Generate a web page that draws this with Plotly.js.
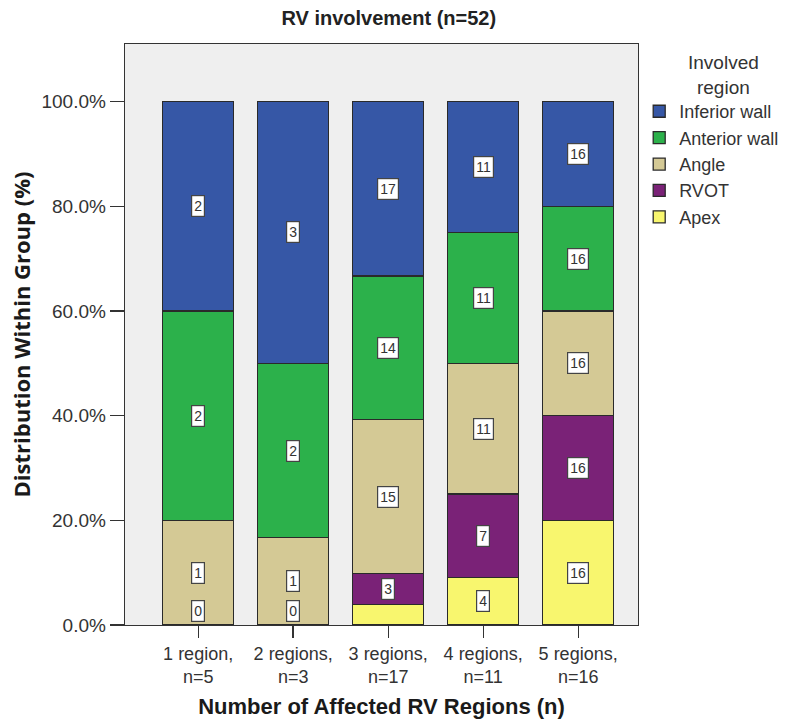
<!DOCTYPE html>
<html>
<head>
<meta charset="utf-8">
<script src="https://cdn.plot.ly/plotly-3.0.1.min.js"></script>
<style>
  html, body { margin: 0; padding: 0; background: #fff; }
  #plot { width: 800px; height: 727px; }
</style>
</head>
<body>
<div id="plot"></div>
<script>
// Categories (x axis)
const groups = ['1 region,<br>n=5', '2 regions,<br>n=3', '3 regions,<br>n=17', '4 regions,<br>n=11', '5 regions,<br>n=16'];

// Counts per involved region, stacked from bottom to top
const apex     = [0, 0, 2, 4, 16];
const rvot     = [0, 0, 3, 7, 16];
const angle    = [1, 1, 15, 11, 16];
const anterior = [2, 2, 14, 11, 16];
const inferior = [2, 3, 17, 11, 16];

const seriesNames = ['Apex', 'RVOT', 'Angle', 'Anterior wall', 'Inferior wall'];
const seriesData = [apex, rvot, angle, anterior, inferior];
const colors = ['#f8f66e', '#7a2277', '#d4c995', '#2cb14b', '#3657a6'];

const traces = seriesData.map((vals, i) => ({
    type: 'bar',
    name: seriesNames[i],
    x: groups,
    y: vals,
    marker: { color: colors[i], line: { color: '#2a2a2a', width: 1.3 } },
    hoverinfo: 'skip'
}));

const labelFont = { family: 'Liberation Sans, Arial', size: 14, color: '#333' };

// Count labels in white boxes, centred on each segment
const annotations = [];
groups.forEach((g, j) => {
    const total = seriesData.reduce((s, arr) => s + arr[j], 0);
    let base = 0;
    seriesData.forEach(arr => {
        const pct = arr[j] / total * 100;
        if (arr[j] === 0) {
            annotations.push({
                x: g, y: 0, xref: 'x', yref: 'y', yanchor: 'bottom', yshift: 3,
                text: '0', showarrow: false, font: labelFont,
                bgcolor: '#ffffff', bordercolor: '#444', borderwidth: 1.2, borderpad: 2
            });
        } else if (pct >= 5) {
            annotations.push({
                x: g, y: base + pct / 2, xref: 'x', yref: 'y',
                text: String(arr[j]), showarrow: false, font: labelFont,
                bgcolor: '#ffffff', bordercolor: '#444', borderwidth: 1.2, borderpad: 2
            });
        }
        base += pct;
    });
});

// Legend heading
annotations.push({
    xref: 'paper', yref: 'paper', x: 1.166, y: 0.99, xanchor: 'center', yanchor: 'top',
    text: 'Involved<br>region', showarrow: false, align: 'center',
    font: { family: 'Liberation Sans, Arial', size: 19, color: '#333' }
});

const layout = {
    width: 800,
    height: 727,
    margin: { l: 125, r: 162, t: 44, b: 102 },
    paper_bgcolor: '#ffffff',
    plot_bgcolor: '#efefef',
    barmode: 'stack',
    barnorm: 'percent',
    bargap: 0.25,
    font: { family: 'Liberation Sans, Arial', size: 17, color: '#333' },
    title: {
        text: '<b>RV involvement (n=52)</b>',
        x: 0.486, xanchor: 'center', y: 0.975, yanchor: 'middle',
        font: { family: 'Liberation Sans, Arial', size: 20, color: '#222' }
    },
    xaxis: {
        range: [-0.77, 4.63],
        showline: true, linecolor: '#333', linewidth: 1.3, mirror: true,
        ticks: 'outside', ticklen: 12, tickcolor: '#333', tickwidth: 1.3,
        tickfont: { size: 18, color: '#333' },
        title: { text: '<b>Number of Affected RV Regions (n)</b>', standoff: 12,
                 font: { size: 22, color: '#1a1a1a' } }
    },
    yaxis: {
        range: [0, 111],
        tickvals: [0, 20, 40, 60, 80, 100],
        ticktext: ['0.0%', '20.0%', '40.0%', '60.0%', '80.0%', '100.0%'],
        showgrid: false, zeroline: false,
        showline: true, linecolor: '#333', linewidth: 1.3, mirror: true,
        ticks: 'outside', ticklen: 14, tickcolor: '#333', tickwidth: 1.3,
        tickfont: { size: 19, color: '#333' },
        title: { text: '<b>Distribution Within Group (%)</b>', standoff: 4,
                 font: { family: 'Open Sans, Liberation Sans', size: 22, color: '#1a1a1a' } }
    },
    legend: {
        xref: 'container', yref: 'container',
        x: 0.799, y: 0.872, xanchor: 'left', yanchor: 'top',
        traceorder: 'reversed',
        font: { size: 18, color: '#333' },
        tracegroupgap: 0, itemwidth: 30,
        bgcolor: 'rgba(0,0,0,0)'
    },
    annotations: annotations
};

Plotly.newPlot('plot', traces, layout, { displayModeBar: false, staticPlot: true });
</script>
</body>
</html>
